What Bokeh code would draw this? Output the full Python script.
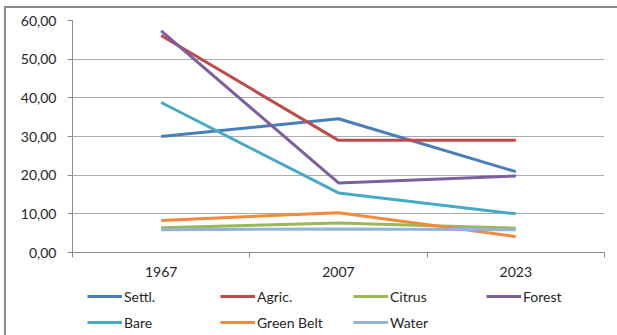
from bokeh.plotting import figure
from bokeh.layouts import column
from bokeh.models import FixedTicker, Legend, LegendItem, Range1d
from bokeh.embed import file_html
from bokeh.resources import INLINE

# Land-use shares (%) per survey year
years = ["1967", "2007", "2023"]
settl = [30.0, 34.6, 20.9]
agric = [56.1, 29.0, 29.0]
citrus = [6.4, 7.6, 6.3]
forest = [57.3, 18.0, 19.8]
bare = [38.8, 15.4, 10.0]
green_belt = [8.3, 10.3, 4.1]
water = [5.9, 6.1, 5.9]

y_ticks = [0, 10, 20, 30, 40, 50, 60]
y_tick_labels = ["0,00", "10,00", "20,00", "30,00", "40,00", "50,00", "60,00"]

series = [
    ("Settl.", settl, "#4A7EBB"),
    ("Agric.", agric, "#BE4B48"),
    ("Citrus", citrus, "#98B954"),
    ("Forest", forest, "#7D5FA0"),
    ("Bare", bare, "#46AAC5"),
    ("Green Belt", green_belt, "#F08A3C"),
    ("Water", water, "#95B3D7"),
]
legend_cols = 4

FONT = "Lato"
TEXT = "#262626"
GRAY = "#8C8C8C"

# categories sit at the centre of equal-width slots
x_pos = [i + 0.5 for i in range(len(years))]
slot_edges = [float(i) for i in range(len(years) + 1)]

p = figure(
    frame_width=532, frame_height=232,
    x_range=Range1d(0, len(years)), y_range=Range1d(0, 60),
    output_backend="svg", toolbar_location=None,
    min_border_left=66, min_border_right=13,
    min_border_top=12, min_border_bottom=31,
)
p.outline_line_color = None
p.background_fill_color = "white"
p.border_fill_color = "white"

p.xgrid.visible = False
p.ygrid.ticker = FixedTicker(ticks=y_ticks)
p.ygrid.grid_line_color = "#ABABAB"
p.ygrid.grid_line_width = 1

# y axis
yax = p.yaxis[0]
yax.ticker = FixedTicker(ticks=y_ticks)
yax.major_label_overrides = {t: l for t, l in zip(y_ticks, y_tick_labels)}
yax.axis_line_color = GRAY
yax.major_tick_line_color = GRAY
yax.major_tick_out = 5
yax.major_tick_in = 0
yax.minor_tick_line_color = None
yax.major_label_standoff = 11
yax.major_label_text_font = FONT
yax.major_label_text_font_size = "14px"
yax.major_label_text_color = TEXT

# x axis: labels at slot centres, tick marks at slot edges
xax = p.xaxis[0]
xax.ticker = FixedTicker(ticks=x_pos, minor_ticks=slot_edges)
xax.major_label_overrides = {x: y for x, y in zip(x_pos, years)}
xax.axis_line_color = GRAY
xax.major_tick_line_color = None
xax.major_tick_out = 5
xax.major_tick_in = 0
xax.minor_tick_line_color = GRAY
xax.minor_tick_out = 5
xax.minor_tick_in = 0
xax.major_label_standoff = 9
xax.major_label_text_font = FONT
xax.major_label_text_font_size = "14px"
xax.major_label_text_color = TEXT

for name, vals, color in series:
    p.line(x_pos, vals, line_color=color, line_width=3)

# legend strip under the chart: same series styles, drawn outside its view
key = figure(
    width=611, height=52,
    x_range=Range1d(0, 1), y_range=Range1d(0, 1),
    x_axis_type=None, y_axis_type=None,
    output_backend="svg", toolbar_location=None,
    min_border=0,
)
key.outline_line_color = None
key.border_fill_color = "white"
key.background_fill_color = "white"

items = []
for name, vals, color in series:
    r = key.line(x_pos, vals, line_color=color, line_width=3)
    items.append(LegendItem(label=name, renderers=[r]))

legend = Legend(
    items=items, orientation="horizontal", ncols=legend_cols,
    location=(15, 0), margin=0, padding=0, spacing=0,
    glyph_width=35, glyph_height=26, label_height=26, label_width=96,
    label_standoff=2,
    label_text_font=FONT, label_text_font_size="14px", label_text_color=TEXT,
    border_line_color=None, background_fill_alpha=0,
)
key.add_layout(legend)

layout = column(p, key, spacing=0)
layout.styles = {
    "margin-left": "4px", "margin-top": "6px",
    "border-left": "2px solid #8C8C8C", "border-top": "2px solid #8C8C8C",
}

open("out.html", "w").write(file_html(layout, INLINE))
